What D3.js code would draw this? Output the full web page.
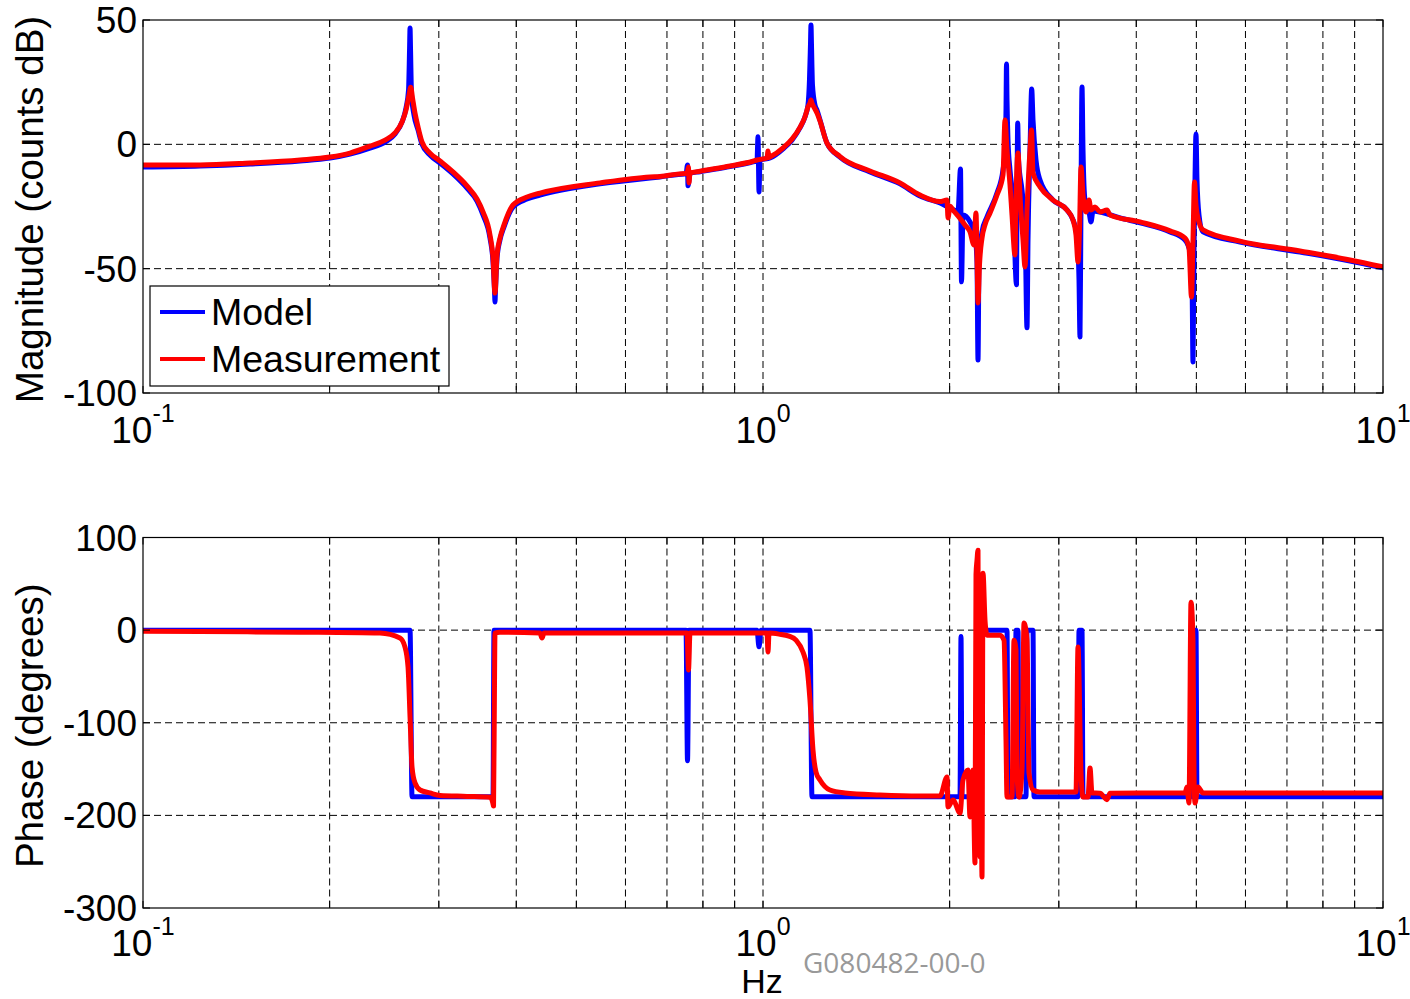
<!DOCTYPE html>
<html><head><meta charset="utf-8">
<script src="https://cdn.jsdelivr.net/npm/d3@7"></script>
<style>body{margin:0;background:#fff}svg{display:block}</style>
</head><body>
<svg id="c" width="1410" height="999"></svg>
<script>
// ---------- data (frequency in Hz, value) ----------
const seriesNames = ["Model", "Measurement"];
const seriesColors = ["#0000ff", "#ff0000"];
const xMajorTicks = [0.1, 1, 10];
const xTickExponents = ["-1", "0", "1"];
const magTicks = [50, 0, -50, -100];
const phaseTicks = [100, 0, -100, -200, -300];

const magModel = [
[0.1,-9.1],[0.1236,-8.7],[0.1488,-7.9],[0.1792,-6.7],[0.2003,-5.5],[0.2157,-3.9],[0.2323,-1.5],[0.2457,0.9],
[0.255,4.2],[0.2617,9.0],[0.2656,14.6],[0.2681,21.9],[0.2691,37.9],[0.2696,46.8],[0.2701,37.9],[0.2711,19.8],
[0.2736,11.8],[0.2777,5.8],[0.2818,0.1],[0.2903,-4.3],[0.3013,-7.5],[0.3162,-11.9],[0.3331,-17.6],[0.3457,-22.8],
[0.3535,-28.4],[0.3628,-37.7],[0.3669,-47.3],[0.3689,-58.6],[0.3696,-63.4],[0.3703,-58.6],[0.3724,-45.7],
[0.3765,-38.5],[0.3822,-33.2],[0.3952,-25.2],[0.4163,-22.0],[0.4368,-20.4],[0.5459,-15.9],[0.6573,-13.5],
[0.6821,-13.1],[0.7485,-11.9],[0.7513,-11.9],[0.7555,-8.3],[0.7569,-16.7],[0.7625,-11.7],[0.7914,-11.0],
[0.8749,-9.1],[0.9635,-7.0],[0.978,-6.5],[0.9816,3.0],[0.9853,-19.2],[0.9889,-6.3],[1.0264,-5.5],[1.0811,-1.5],
[1.1137,1.7],[1.1471,6.6],[1.1686,11.0],[1.1818,15.8],[1.1884,25.9],[1.1928,40.0],[1.1951,48.0],[1.1973,40.0],
[1.2017,23.9],[1.213,15.8],[1.222,13.8],[1.2357,9.8],[1.2683,0.5],[1.3311,-5.1],[1.4879,-11.1],[1.6633,-15.9],
[1.7915,-20.8],[1.9297,-23.6],[2.0631,-26.8],[2.0823,-9.9],[2.0901,-55.3],[2.1018,-28.4],[2.1571,-31.2],
[2.1975,-36.5],[2.2139,-47.3],[2.2222,-86.7],[2.2304,-47.3],[2.2554,-35.2],[2.2977,-29.2],[2.3846,-19.6],
[2.4383,-10.3],[2.4565,-2.3],[2.4657,13.8],[2.4703,32.3],[2.4749,17.8],[2.4841,1.7],[2.5026,-10.3],[2.5306,-22.4],
[2.5638,-56.5],[2.5685,-22.4],[2.5752,8.6],[2.5829,-6.3],[2.6167,-18.4],[2.646,-32.4],[2.6657,-73.8],[2.6756,-38.5],
[2.6956,-2.3],[2.7126,22.3],[2.7258,9.8],[2.7563,-6.3],[2.7976,-14.3],[2.9359,-22.4],[3.0926,-26.4],[3.1623,-30.4],
[3.2096,-36.5],[3.2336,-54.5],[3.2456,-77.5],[3.2577,-22.4],[3.2698,23.1],[3.282,-2.3],[3.3065,-22.4],[3.356,-27.2],
[3.381,-31.2],[3.4062,-26.8],[3.4958,-27.2],[3.7654,-29.6],[4.0557,-31.6],[4.5337,-35.2],[4.7934,-38.5],
[4.8832,-43.3],[4.9196,-54.5],[4.9379,-87.5],[4.9563,-42.5],[4.9747,-14.3],[4.9932,4.2],[5.0118,-14.3],
[5.0492,-28.4],[5.1247,-35.2],[5.88,-39.3],[7.3473,-43.3],[8.8466,-46.9],[10,-49.7]
];

const magMeas = [
[0.1,-8.3],[0.1236,-8.3],[0.1488,-7.5],[0.1792,-6.3],[0.2003,-5.1],[0.2157,-3.5],[0.2323,-0.7],[0.2457,1.7],
[0.255,4.6],[0.2617,9.0],[0.2656,13.8],[0.2686,19.8],[0.2703,23.0],[0.2721,18.6],[0.2746,12.6],[0.2777,7.0],
[0.2818,1.0],[0.2903,-3.5],[0.3013,-6.7],[0.3162,-11.1],[0.3331,-16.7],[0.3457,-22.0],[0.3535,-27.2],
[0.3628,-36.5],[0.3669,-45.7],[0.3696,-59.8],[0.3724,-44.5],[0.3765,-37.7],[0.3822,-32.4],[0.3952,-24.4],
[0.4163,-21.2],[0.4368,-19.6],[0.5459,-15.5],[0.6573,-13.1],[0.6821,-12.9],[0.7485,-11.7],[0.7541,-11.7],
[0.7583,-9.1],[0.7597,-15.5],[0.7625,-11.5],[0.7914,-10.8],[0.8749,-8.9],[0.9635,-6.8],[0.978,-6.3],[1.015,-5.5],
[1.0188,-2.7],[1.0226,-5.3],[1.0264,-5.1],[1.0811,-1.1],[1.1137,2.1],[1.1471,6.8],[1.1686,11.0],[1.1818,15.0],
[1.1906,16.6],[1.1951,17.8],[1.1995,16.6],[1.213,14.2],[1.222,12.6],[1.2357,9.4],[1.2683,0.5],[1.3311,-4.9],
[1.4879,-10.7],[1.6633,-15.5],[1.7915,-20.4],[1.9297,-23.0],[1.9805,-22.4],[1.9879,-29.6],[2.0027,-24.8],
[2.0251,-26.4],[2.0631,-28.8],[2.1174,-32.4],[2.1571,-35.2],[2.1894,-40.5],[2.2057,-27.6],[2.2139,-44.5],
[2.2222,-63.8],[2.2345,-48.5],[2.2554,-37.7],[2.2807,-32.4],[2.3234,-27.6],[2.3846,-20.4],[2.4383,-12.3],
[2.4565,9.8],[2.4749,-2.3],[2.5026,-16.3],[2.5212,-28.4],[2.5495,-44.5],[2.559,-22.4],[2.5781,-3.5],[2.5973,-20.4],
[2.6264,-38.5],[2.646,-49.3],[2.6657,-26.4],[2.6956,-2.3],[2.7106,5.8],[2.7258,-11.5],[2.7976,-17.1],[2.9359,-22.4],
[3.0926,-26.4],[3.1623,-30.4],[3.1977,-36.5],[3.2216,-47.3],[3.2396,-34.4],[3.2577,-9.1],[3.282,-20.4],
[3.3188,-27.2],[3.356,-22.4],[3.381,-26.4],[3.4316,-25.2],[3.4958,-27.2],[3.5879,-26.4],[3.6281,-28.4],
[4.0557,-31.2],[4.5337,-34.8],[4.7934,-37.7],[4.8651,-41.7],[4.9105,-61.4],[4.9379,-38.5],[4.9655,-15.1],
[4.9932,-24.4],[5.0492,-31.2],[5.1247,-34.4],[5.88,-38.9],[7.3473,-42.9],[8.8466,-46.5],[10,-49.3]
];

const phaseModel = [
[0.1,0],[0.2696,0],[0.2716,-180],[0.3669,-180],[0.3682,0],[0.7513,0],[0.7555,-141],[0.7597,0],[0.978,0],
[0.9853,-18],[0.9926,0],[1.1906,0],[1.1995,-180],[2.0785,-180],[2.0862,-7],[2.094,-180],[2.2139,-180],[2.2304,0],
[2.4749,0],[2.4841,-180],[2.5495,-180],[2.559,0],[2.5781,0],[2.5877,-180],[2.6558,-180],[2.6657,0],[2.7258,0],
[2.7359,-180],[3.2216,-180],[3.2336,0],[3.2698,0],[3.282,-180],[4.9379,-180],[4.9563,0],[4.9932,0],[5.0118,-180],
[10,-180]
];

const phaseMeas = [
[0.1,-1.1],[0.1236,-1.6],[0.1792,-2.2],[0.2411,-3.2],[0.2597,-8.6],[0.2646,-18.3],[0.2676,-39.9],[0.2696,-94],
[0.2716,-148],[0.2746,-165],[0.2798,-172.6],[0.2903,-175.8],[0.3013,-178.5],[0.3331,-179.5],[0.3628,-180.5],
[0.3655,-183.4],[0.3669,-187.7],[0.3676,-190],[0.3689,-60],[0.3696,-3.2],[0.3765,-2.2],[0.4368,-3.2],[0.4401,-8.6],
[0.4434,-3.2],[0.5459,-3.2],[0.7541,-3.2],[0.7583,-43.1],[0.7625,-3.2],[0.978,-3.2],[1.015,-3.2],[1.0188,-23.7],
[1.0226,-3.2],[1.0612,-4.3],[1.1014,-6.5],[1.1304,-10.8],[1.16,-23.7],[1.1774,-39.9],[1.1906,-75.5],[1.204,-129.4],
[1.2175,-153.2],[1.2357,-161.8],[1.2825,-172.6],[1.356,-175.8],[1.5442,-178],[1.7915,-179.1],[1.9297,-179.1],
[1.9805,-158.6],[1.9879,-190.9],[2.0251,-183.4],[2.0785,-197.4],[2.1018,-161.8],[2.1412,-151],[2.1571,-201.7],
[2.1813,-151],[2.1975,-251.3],[2.2057,60],[2.2139,75.5],[2.2222,86.3],[2.2304,-200],[2.2387,-244.9],[2.247,-150],
[2.2554,-266.5],[2.2638,61.5],[2.2807,10.8],[2.2977,-5.4],[2.4113,-5.4],[2.4474,-10.8],[2.4657,-118.7],
[2.4749,-180.2],[2.5212,-180.2],[2.54,-10.8],[2.559,-21.6],[2.5685,-154.3],[2.5877,-180.2],[2.6167,-151],
[2.6362,7.6],[2.6657,-10.8],[2.6856,-154.3],[2.7258,-172.6],[2.7976,-174.8],[3.1977,-174.8],[3.2216,-18.3],
[3.2577,-154.3],[3.282,-180.2],[3.3435,-180.2],[3.3685,-148.9],[3.3936,-175.8],[3.4958,-176],[3.5879,-183],
[3.6281,-176],[4.0557,-175.8],[4.7934,-175.8],[4.8291,-169.4],[4.8651,-186.6],[4.9014,30.2],[4.9379,-10.8],
[4.9563,-154.3],[4.9747,-186.6],[5.0304,-169.4],[5.1247,-175.8],[10,-175.8]
];

// ---------- drawing ----------
const svg = d3.select("#c");
const FONT = "'Liberation Sans', Arial, Helvetica, sans-serif";
const L = 143, R = 1383;
const x = d3.scaleLog().domain([0.1, 10]).range([L, R]);
const xAllTicks = x.ticks(); // 0.1..0.9, 1..9, 10

const panels = [
  { top: 20, bottom: 393, domain: [-100, 50], yt: magTicks, data: [magModel, magMeas], label: "Magnitude (counts dB)", id: "m", lab: 50 },
  { top: 537.5, bottom: 908, domain: [-300, 100], yt: phaseTicks, data: [phaseModel, phaseMeas], label: "Phase (degrees)", id: "p", lab: 48 }
];

panels.forEach(p => {
  const y = d3.scaleLinear().domain(p.domain).range([p.bottom, p.top]);
  const g = svg.append("g");

  // grid
  g.append("g").selectAll("line").data(xAllTicks.filter(t => t > 0.1 + 1e-9 && t < 10 - 1e-9)).join("line")
    .attr("x1", d => x(d)).attr("x2", d => x(d)).attr("y1", p.top).attr("y2", p.bottom)
    .attr("stroke", "#000").attr("stroke-width", 1).attr("stroke-dasharray", "7,4");
  g.append("g").selectAll("line").data(p.yt.filter(t => t !== p.domain[0] && t !== p.domain[1])).join("line")
    .attr("x1", L).attr("x2", R).attr("y1", d => y(d)).attr("y2", d => y(d))
    .attr("stroke", "#000").attr("stroke-width", 1).attr("stroke-dasharray", "7,4");

  // clip
  svg.append("clipPath").attr("id", "clip" + p.id).append("rect")
    .attr("x", L).attr("y", p.top).attr("width", R - L).attr("height", p.bottom - p.top);

  const line = d3.line().curve(d3.curveMonotoneX).x(d => x(d[0])).y(d => y(d[1]));
  const lg = g.append("g").attr("clip-path", `url(#clip${p.id})`);
  p.data.forEach((ser, i) => {
    lg.append("path").datum(ser).attr("d", line)
      .attr("fill", "none").attr("stroke", seriesColors[i]).attr("stroke-width", 5)
      .attr("stroke-linejoin", "round").attr("stroke-linecap", "round");
  });

  // frame
  g.append("rect").attr("x", L).attr("y", p.top).attr("width", R - L).attr("height", p.bottom - p.top)
    .attr("fill", "none").attr("stroke", "#000").attr("stroke-width", 1.2);

  // ticks (inward, all sides)
  const tl = 7;
  const tk = g.append("g").attr("stroke", "#000").attr("stroke-width", 1);
  xAllTicks.forEach(t => {
    tk.append("line").attr("x1", x(t)).attr("x2", x(t)).attr("y1", p.bottom).attr("y2", p.bottom - tl);
    tk.append("line").attr("x1", x(t)).attr("x2", x(t)).attr("y1", p.top).attr("y2", p.top + tl);
  });
  p.yt.forEach(t => {
    tk.append("line").attr("x1", L).attr("x2", L + tl).attr("y1", y(t)).attr("y2", y(t));
    tk.append("line").attr("x1", R).attr("x2", R - tl).attr("y1", y(t)).attr("y2", y(t));
  });

  // y tick labels
  g.append("g").selectAll("text").data(p.yt).join("text")
    .attr("x", 137).attr("y", d => y(d) + 13).attr("text-anchor", "end")
    .attr("font-family", FONT).attr("font-size", 37).attr("fill", "#000").text(d => d);

  // x tick labels 10^n
  xMajorTicks.forEach((t, i) => {
    const tx = g.append("text").attr("x", x(t)).attr("y", p.bottom + p.lab).attr("text-anchor", "middle")
      .attr("font-family", FONT).attr("font-size", 37).attr("fill", "#000");
    tx.append("tspan").text("10");
    tx.append("tspan").attr("dy", -21).attr("font-size", 25).text(xTickExponents[i]);
  });

  // y label
  g.append("text").attr("transform", `translate(43,${(p.top + p.bottom) / 2 + 3}) rotate(-90)`)
    .attr("text-anchor", "middle").attr("font-family", FONT).attr("font-size", 38.5).attr("fill", "#000")
    .text(p.label);
});

// legend
const lgd = svg.append("g");
lgd.append("rect").attr("x", 150).attr("y", 286).attr("width", 299).attr("height", 100)
  .attr("fill", "#fff").attr("stroke", "#000").attr("stroke-width", 1.2);
seriesNames.forEach((n, i) => {
  const yy = 312 + i * 47;
  lgd.append("line").attr("x1", 160).attr("x2", 205).attr("y1", yy).attr("y2", yy)
    .attr("stroke", seriesColors[i]).attr("stroke-width", 4);
  lgd.append("text").attr("x", 211).attr("y", yy + 13).attr("font-family", FONT).attr("font-size", 37.5)
    .attr("fill", "#000").text(n);
});

// x label and document id
svg.append("text").attr("x", 762).attr("y", 993).attr("text-anchor", "middle")
  .attr("font-family", FONT).attr("font-size", 34).attr("fill", "#000").text("Hz");
svg.append("text").attr("x", 803).attr("y", 973)
  .attr("font-family", "'Open Sans', 'Noto Sans', sans-serif").attr("font-size", 28).attr("fill", "#999")
  .text("G080482-00-0");
</script>
</body></html>
